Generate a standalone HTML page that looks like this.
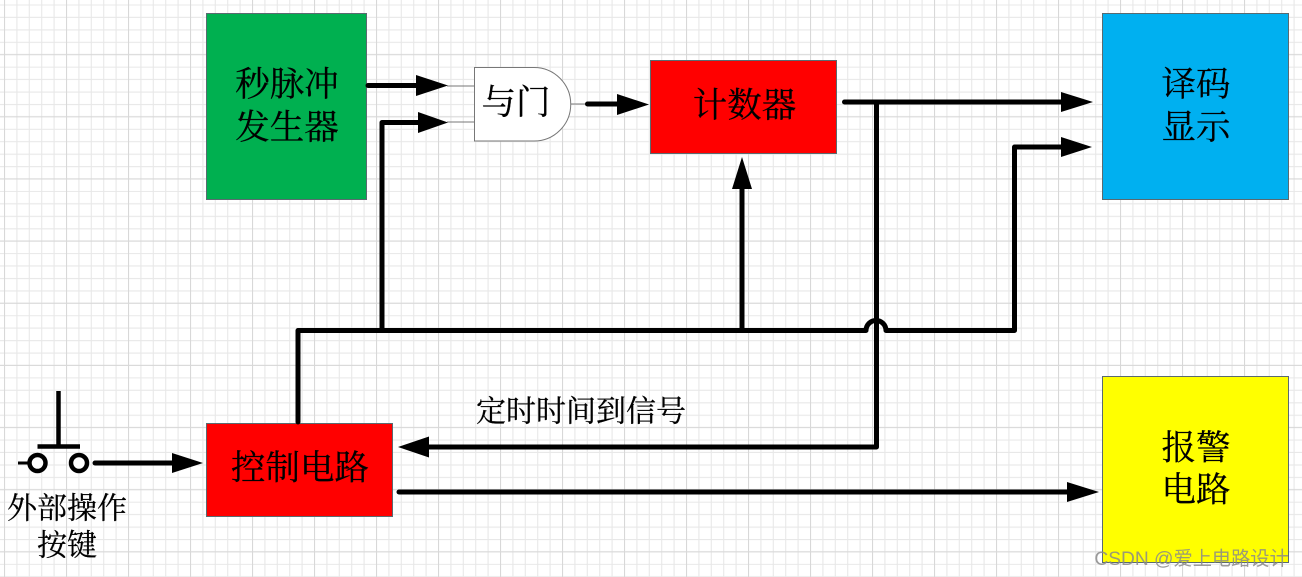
<!DOCTYPE html>
<html><head><meta charset="utf-8"><style>
html,body{margin:0;padding:0;background:#fff}
svg{display:block}
text{font-family:"Liberation Serif","Noto Serif CJK SC",serif;fill:#000;text-anchor:middle;stroke:#000;stroke-width:.25px}
</style></head><body>
<svg xmlns="http://www.w3.org/2000/svg" width="1302" height="577" viewBox="0 0 1302 577">
<defs>
<pattern id="g" patternUnits="userSpaceOnUse" x="4" y="4.500" width="62" height="62.150">
<path d="M.5 0V63M12.9 0V63M25.3 0V63M37.7 0V63M50.1 0V63" stroke="#e8e8e8" stroke-width="1.100" fill="none"/>
<path d="M0 .5H63M0 12.9H63M0 25.4H63M0 37.8H63M0 50.2H63" stroke="#e8e8e8" stroke-width="1.100" fill="none"/>
<path d="M.5 0V63" stroke="#d8d8d8" stroke-width="1.100"/>
<path d="M0 50.2H63" stroke="#d8d8d8" stroke-width="1.100"/>
</pattern>
</defs>
<rect width="1302" height="577" fill="#fff"/>
<rect width="1302" height="577" fill="url(#g)"/>

<g stroke="#5a6a70" stroke-width="1">
<rect x="206.500" y="13.500" width="160" height="186" fill="#00b050"/>
<rect x="650.500" y="60.500" width="186" height="93" fill="#ff0000"/>
<rect x="1102.500" y="13.500" width="186" height="186" fill="#00b0f0"/>
<rect x="206.500" y="423.500" width="186" height="93" fill="#ff0000"/>
<rect x="1102.500" y="376.500" width="186" height="186" fill="#ffff00"/>
</g>

<path d="M447 86H474M447 122H474M571 104H586" stroke="#777" stroke-width="1" fill="none"/>
<path d="M474.500 67.500H534A36.750 36.750 0 0 1 534 141H474.500Z" fill="#fff" stroke="#777" stroke-width="1"/>

<g fill="none" stroke="#000" stroke-width="5" stroke-linejoin="round" stroke-linecap="round">
<path d="M368 85.500H420"/>
<path d="M382 330V122.500H420"/>
<path d="M587.500 104H620"/>
<path d="M298 422V330.500H866A10 10 0 0 1 886 330.500H1014.500V147H1064"/>
<path d="M742 330V186"/>
<path d="M844.500 102H1064"/>
<path d="M876.500 102V447H428"/>
<path d="M95 463H174"/>
<path d="M399 492H1069"/>
</g>
<g fill="#000">
<path d="M416 75L448 85.500L416 96Z"/>
<path d="M418 112L448 122.500L418 133Z"/>
<path d="M617 94L649 104.500L617 115Z"/>
<path d="M742 157L752 189H732Z"/>
<path d="M1061 92L1093 102L1061 112Z"/>
<path d="M1061 137L1092 147L1061 157Z"/>
<path d="M398 447L429 436.500V457.500Z"/>
<path d="M172 453L203 463L172 473Z"/>
<path d="M1067 482L1099 492L1067 502Z"/>
</g>

<g fill="none" stroke="#000">
<path d="M58.500 391V445" stroke-width="4.500"/>
<path d="M37.500 446.500H80" stroke-width="4.500"/>
<path d="M18 463H29" stroke-width="3"/>
<circle cx="37.500" cy="463" r="8" stroke-width="4.500" fill="#fff"/>
<circle cx="79" cy="463" r="8" stroke-width="4.500" fill="#fff"/>
</g>

<g font-size="34.500">
<text x="287" y="96">秒脉冲</text>
<text x="287" y="139">发生器</text>
<text x="744.500" y="117">计数器</text>
<text x="1196" y="96">译码</text>
<text x="1196" y="139">显示</text>
<text x="300" y="479.500">控制电路</text>
<text x="1196" y="459.500">报警</text>
<text x="1196" y="501.500">电路</text>
<text x="516" y="114">与门</text>
</g>
<g font-size="30">
<text x="67" y="518.500">外部操作</text>
<text x="67" y="555.500">按键</text>
<text x="581" y="421.500">定时时间到信号</text>
</g>
<text x="1191.500" y="565" style="font-family:'Liberation Sans','Noto Sans CJK SC',sans-serif;font-size:19.200px;fill:#8a8a8a;stroke:none;opacity:.85">CSDN @爱上电路设计</text>
</svg>
</body></html>
